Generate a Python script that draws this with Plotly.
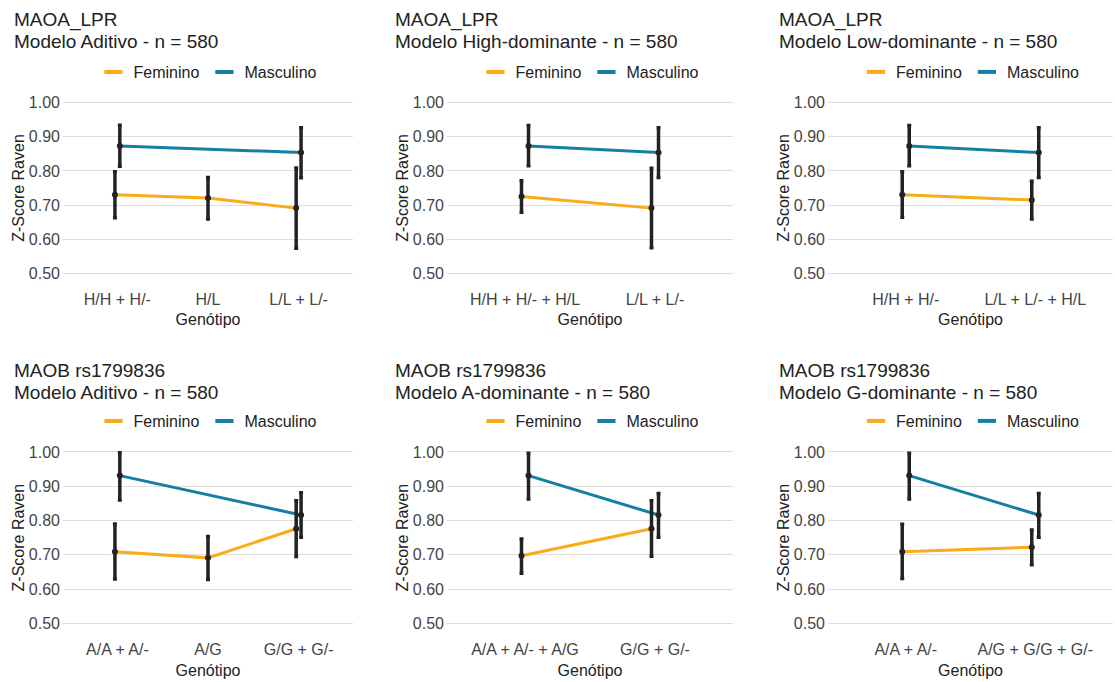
import plotly.graph_objects as go

W, H = 1115, 682
FONT = "Liberation Sans, Arial, Helvetica, sans-serif"
FEM_COLOR = "#FAAB18"
MASC_COLOR = "#1380A1"
BAR_COLOR = "#222222"

# ---------------- data ----------------
title_gene = ["MAOA_LPR", "MAOA_LPR", "MAOA_LPR",
              "MAOB rs1799836", "MAOB rs1799836", "MAOB rs1799836"]
title_model = [
    "Modelo Aditivo - n = 580",
    "Modelo High-dominante - n = 580",
    "Modelo Low-dominante - n = 580",
    "Modelo Aditivo - n = 580",
    "Modelo A-dominante - n = 580",
    "Modelo G-dominante - n = 580",
]

p1_cats = ["H/H + H/-", "H/L", "L/L + L/-"]
p1_fem = [0.730, 0.721, 0.691]
p1_fem_hi = [0.798, 0.781, 0.809]
p1_fem_lo = [0.663, 0.659, 0.573]
p1_masc = [0.873, None, 0.854]
p1_masc_hi = [0.934, None, 0.927]
p1_masc_lo = [0.814, None, 0.780]

p2_cats = ["H/H + H/- + H/L", "L/L + L/-"]
p2_fem = [0.725, 0.691]
p2_fem_hi = [0.771, 0.808]
p2_fem_lo = [0.679, 0.575]
p2_masc = [0.873, 0.854]
p2_masc_hi = [0.933, 0.927]
p2_masc_lo = [0.815, 0.781]

p3_cats = ["H/H + H/-", "L/L + L/- + H/L"]
p3_fem = [0.730, 0.715]
p3_fem_hi = [0.798, 0.770]
p3_fem_lo = [0.664, 0.659]
p3_masc = [0.873, 0.854]
p3_masc_hi = [0.933, 0.927]
p3_masc_lo = [0.815, 0.781]

p4_cats = ["A/A + A/-", "A/G", "G/G + G/-"]
p4_fem = [0.709, 0.691, 0.776]
p4_fem_hi = [0.790, 0.753, 0.858]
p4_fem_lo = [0.629, 0.628, 0.695]
p4_masc = [0.931, None, 0.816]
p4_masc_hi = [0.998, None, 0.881]
p4_masc_lo = [0.860, None, 0.751]

p5_cats = ["A/A + A/- + A/G", "G/G + G/-"]
p5_fem = [0.697, 0.776]
p5_fem_hi = [0.746, 0.858]
p5_fem_lo = [0.646, 0.696]
p5_masc = [0.931, 0.816]
p5_masc_hi = [0.996, 0.879]
p5_masc_lo = [0.863, 0.751]

p6_cats = ["A/A + A/-", "A/G + G/G + G/-"]
p6_fem = [0.709, 0.722]
p6_fem_hi = [0.789, 0.772]
p6_fem_lo = [0.631, 0.671]
p6_masc = [0.931, 0.816]
p6_masc_hi = [0.996, 0.879]
p6_masc_lo = [0.863, 0.751]

y_ticks = [0.50, 0.60, 0.70, 0.80, 0.90, 1.00]

panels = [
    (p1_cats, p1_fem, p1_fem_lo, p1_fem_hi, p1_masc, p1_masc_lo, p1_masc_hi),
    (p2_cats, p2_fem, p2_fem_lo, p2_fem_hi, p2_masc, p2_masc_lo, p2_masc_hi),
    (p3_cats, p3_fem, p3_fem_lo, p3_fem_hi, p3_masc, p3_masc_lo, p3_masc_hi),
    (p4_cats, p4_fem, p4_fem_lo, p4_fem_hi, p4_masc, p4_masc_lo, p4_masc_hi),
    (p5_cats, p5_fem, p5_fem_lo, p5_fem_hi, p5_masc, p5_masc_lo, p5_masc_hi),
    (p6_cats, p6_fem, p6_fem_lo, p6_fem_hi, p6_masc, p6_masc_lo, p6_masc_hi),
]

# ---------------- layout geometry (pixels) ----------------
col_x = [(63, 353), (447, 733), (828, 1113)]
row_y = [(94.2, 281.8), (443.4, 631.9)]
title_x = [12, 393, 777]
title_line1 = [20, 370]
title_line2 = [42, 392]
legend_y = [72, 421]
DODGE = 0.027

fig = go.Figure()
layout = dict(
    width=W, height=H, margin=dict(l=0, r=0, t=0, b=0),
    paper_bgcolor="white", plot_bgcolor="white",
    font=dict(family=FONT, size=16, color="#222222"),
    showlegend=True, annotations=[],
)

for i, (cats, fem, fem_lo, fem_hi, masc, masc_lo, masc_hi) in enumerate(panels):
    r, c = divmod(i, 3)
    n = i + 1
    xa = "x" if n == 1 else f"x{n}"
    ya = "y" if n == 1 else f"y{n}"
    leg = "legend" if n == 1 else f"legend{n}"
    pos = list(range(1, len(cats) + 1))

    def xs(vals, other, sign):
        out = []
        for p, v, o in zip(pos, vals, other):
            if v is None:
                out.append(None)
            elif o is None:
                out.append(p)
            else:
                out.append(p + sign * DODGE)
        return out

    fx = xs(fem, masc, -1)
    mx = xs(masc, fem, +1)

    def clean(xv, yv, lo, hi):
        xx, yy, ep, em = [], [], [], []
        for a, b, l, h in zip(xv, yv, lo, hi):
            if b is None:
                continue
            xx.append(a); yy.append(b); ep.append(h - b); em.append(b - l)
        return xx, yy, ep, em

    series = [
        ("Feminino", fx, fem, fem_lo, fem_hi, FEM_COLOR),
        ("Masculino", mx, masc, masc_lo, masc_hi, MASC_COLOR),
    ]
    for name, xv, yv, lo, hi, col in series:
        xx, yy, ep, em = clean(xv, yv, lo, hi)
        fig.add_trace(go.Scatter(
            x=xx, y=yy, mode="lines", line=dict(color=col, width=3),
            xaxis=xa, yaxis=ya, showlegend=False, hoverinfo="skip",
        ))
    for name, xv, yv, lo, hi, col in series:
        xx, yy, ep, em = clean(xv, yv, lo, hi)
        fig.add_trace(go.Scatter(
            x=xx, y=yy, mode="markers", name=name,
            marker=dict(color=BAR_COLOR, size=6),
            error_y=dict(type="data", array=ep, arrayminus=em, symmetric=False,
                         color=BAR_COLOR, thickness=3.5, width=2),
            xaxis=xa, yaxis=ya, showlegend=False,
        ))
    # legend entries
    for name, col in [("Feminino", FEM_COLOR), ("Masculino", MASC_COLOR)]:
        fig.add_trace(go.Scatter(
            x=[None], y=[None], mode="markers", name=name,
            marker=dict(symbol="line-ew-open", size=13, color=col,
                        line=dict(color=col, width=4)),
            xaxis=xa, yaxis=ya, legend=leg, showlegend=True,
        ))

    x0, x1 = col_x[c]
    y0, y1 = row_y[r]
    layout["xaxis" if n == 1 else f"xaxis{n}"] = dict(
        domain=[x0 / W, x1 / W], anchor=ya,
        range=[0.4, len(cats) + 0.6],
        tickvals=pos, ticktext=cats,
        showgrid=False, zeroline=False, showline=False,
        ticks="", ticklabelstandoff=6,
        tickfont=dict(size=16, color="#444444", family=FONT),
        title=dict(text="Genótipo", font=dict(size=16, color="#222222", family=FONT),
                   standoff=7),
        fixedrange=True,
    )
    layout["yaxis" if n == 1 else f"yaxis{n}"] = dict(
        domain=[1 - y1 / H, 1 - y0 / H], anchor=xa,
        range=[0.475, 1.025],
        tickvals=y_ticks, tickformat=".2f",
        showgrid=True, gridcolor="#dedede", gridwidth=1.3,
        zeroline=False, showline=False,
        ticks="", ticklabelstandoff=2,
        tickfont=dict(size=16, color="#444444", family=FONT),
        title=dict(text="Z-Score Raven", font=dict(size=16, color="#222222", family=FONT),
                   standoff=0),
        fixedrange=True,
    )
    layout[leg] = dict(
        orientation="h", x=(x0 + x1) / 2 / W, xanchor="center",
        y=1 - legend_y[r] / H, yanchor="middle",
        bgcolor="rgba(0,0,0,0)", font=dict(size=16, color="#222222", family=FONT),
        itemwidth=30, tracegroupgap=0,
    )
    for txt, yy in [(title_gene[i], title_line1[r]), (title_model[i], title_line2[r])]:
        layout["annotations"].append(dict(
            text=txt, xref="paper", yref="paper",
            x=title_x[c] / W, y=1 - yy / H,
            xanchor="left", yanchor="middle", align="left", showarrow=False,
            font=dict(size=19, color="#222222", family=FONT),
        ))

fig.update_layout(**layout)
fig.write_html("out.html")
